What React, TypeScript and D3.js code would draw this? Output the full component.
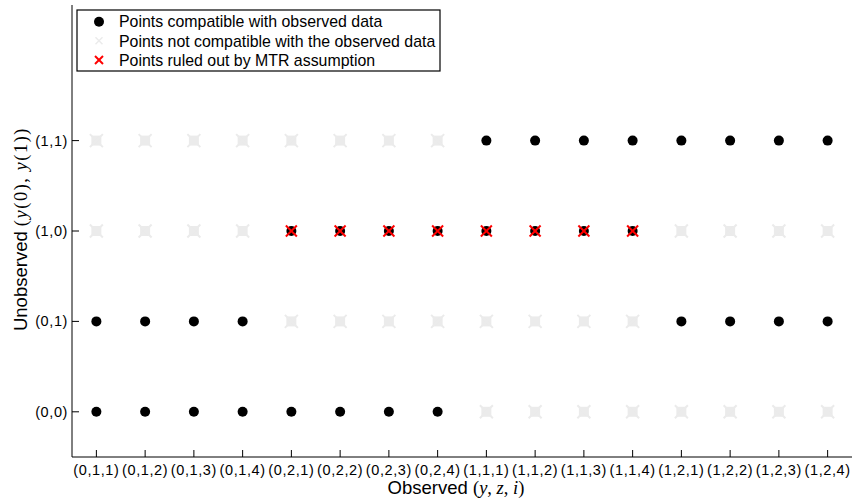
import React from "react";
import * as d3 from "d3";

const xCategories = [
  "(0,1,1)", "(0,1,2)", "(0,1,3)", "(0,1,4)",
  "(0,2,1)", "(0,2,2)", "(0,2,3)", "(0,2,4)",
  "(1,1,1)", "(1,1,2)", "(1,1,3)", "(1,1,4)",
  "(1,2,1)", "(1,2,2)", "(1,2,3)", "(1,2,4)",
];
const yCategories = ["(0,0)", "(0,1)", "(1,0)", "(1,1)"];

// 1 = compatible with observed data, 0 = not compatible (rows follow yCategories)
const compatible00 = [1, 1, 1, 1, 1, 1, 1, 1, 0, 0, 0, 0, 0, 0, 0, 0];
const compatible01 = [1, 1, 1, 1, 0, 0, 0, 0, 0, 0, 0, 0, 1, 1, 1, 1];
const compatible10 = [0, 0, 0, 0, 1, 1, 1, 1, 1, 1, 1, 1, 0, 0, 0, 0];
const compatible11 = [0, 0, 0, 0, 0, 0, 0, 0, 1, 1, 1, 1, 1, 1, 1, 1];
// 1 = ruled out by MTR assumption
const mtr00 = [0, 0, 0, 0, 0, 0, 0, 0, 0, 0, 0, 0, 0, 0, 0, 0];
const mtr01 = [0, 0, 0, 0, 0, 0, 0, 0, 0, 0, 0, 0, 0, 0, 0, 0];
const mtr10 = [0, 0, 0, 0, 1, 1, 1, 1, 1, 1, 1, 1, 0, 0, 0, 0];
const mtr11 = [0, 0, 0, 0, 0, 0, 0, 0, 0, 0, 0, 0, 0, 0, 0, 0];

const compatibleRows = [compatible00, compatible01, compatible10, compatible11];
const mtrRows = [mtr00, mtr01, mtr10, mtr11];

const legendLabels = [
  "Points compatible with observed data",
  "Points not compatible with the observed data",
  "Points ruled out by MTR assumption",
];

const W = 852;
const H = 501;
const left = 72;
const right = 852;
const top = 5;
const bottom = 457;
const SANS = "'Liberation Sans', Arial, Helvetica, sans-serif";
const SERIF = "'Liberation Serif', 'DejaVu Serif', serif";

export default function App() {
  const x = d3.scaleLinear().domain([0.5, xCategories.length + 0.5]).range([left, right]);
  const y = d3.scaleLinear().domain([0.5, 5.5]).range([bottom, top]);

  type Pt = { i: number; j: number; comp: number; mtr: number };
  const pts: Pt[] = [];
  yCategories.forEach((_, j) => {
    xCategories.forEach((_, i) => {
      pts.push({ i, j, comp: compatibleRows[j][i], mtr: mtrRows[j][i] });
    });
  });

  const gray = "#ebebeb";
  const grayMark = (cx: number, cy: number, key: string) => (
    <g key={key}>
      <rect x={cx - 5} y={cy - 5} width={10} height={10} fill={gray} />
      <line x1={cx - 6.5} y1={cy - 6.5} x2={cx + 6.5} y2={cy + 6.5} stroke={gray} strokeWidth={2} />
      <line x1={cx - 6.5} y1={cy + 6.5} x2={cx + 6.5} y2={cy - 6.5} stroke={gray} strokeWidth={2} />
    </g>
  );
  const xMark = (cx: number, cy: number, key: string, color: string, s: number, sw: number) => (
    <g key={key}>
      <line x1={cx - s} y1={cy - s} x2={cx + s} y2={cy + s} stroke={color} strokeWidth={sw} />
      <line x1={cx - s} y1={cy + s} x2={cx + s} y2={cy - s} stroke={color} strokeWidth={sw} />
    </g>
  );

  return (
    <svg width={W} height={H} style={{ position: "absolute", left: 0, top: 0, background: "#fff" }}>
      <rect x={0} y={0} width={W} height={H} fill="#fff" />
      {pts.filter((p) => !p.comp).map((p) => grayMark(x(p.i + 1), y(p.j + 1), `g${p.i}-${p.j}`))}
      {pts.filter((p) => p.comp).map((p) => (
        <circle key={`c${p.i}-${p.j}`} cx={x(p.i + 1)} cy={y(p.j + 1)} r={5} fill="#000" />
      ))}
      {pts.filter((p) => p.mtr).map((p) => xMark(x(p.i + 1), y(p.j + 1), `r${p.i}-${p.j}`, "#ff0000", 5.5, 2))}

      {/* axes */}
      <line x1={left} y1={top} x2={left} y2={bottom} stroke="#000" strokeWidth={1} />
      <line x1={left} y1={bottom} x2={right} y2={bottom} stroke="#000" strokeWidth={1} />
      {xCategories.map((c, i) => (
        <g key={`xt${i}`}>
          <line x1={x(i + 1)} y1={bottom} x2={x(i + 1)} y2={bottom - 7} stroke="#000" strokeWidth={1} />
          <text x={x(i + 1)} y={bottom + 17.5} textAnchor="middle" fontFamily={SANS} fontSize={14.5} letterSpacing={0.6} fill="#000">
            {c}
          </text>
        </g>
      ))}
      {yCategories.map((c, j) => (
        <g key={`yt${j}`}>
          <line x1={left} y1={y(j + 1)} x2={left + 7} y2={y(j + 1)} stroke="#000" strokeWidth={1} />
          <text x={left - 4} y={y(j + 1) + 5} textAnchor="end" fontFamily={SANS} fontSize={14.5} letterSpacing={0.6} fill="#000">
            {c}
          </text>
        </g>
      ))}

      {/* axis labels */}
      <text x={456} y={494} textAnchor="middle" fontFamily={SANS} fontSize={18.5} fill="#000">
        Observed{" "}
        <tspan fontFamily={SERIF}>(</tspan>
        <tspan fontFamily={SERIF} fontStyle="italic">y</tspan>
        <tspan fontFamily={SERIF}>, </tspan>
        <tspan fontFamily={SERIF} fontStyle="italic">z</tspan>
        <tspan fontFamily={SERIF}>, </tspan>
        <tspan fontFamily={SERIF} fontStyle="italic">i</tspan>
        <tspan fontFamily={SERIF}>)</tspan>
      </text>
      <text
        transform={`translate(27, 229) rotate(-90)`}
        textAnchor="middle"
        fontFamily={SANS}
        fontSize={18.5}
        fill="#000"
      >
        Unobserved{" "}
        <tspan fontFamily={SERIF} letterSpacing={1.5}>(</tspan>
        <tspan fontFamily={SERIF} fontStyle="italic" letterSpacing={1.5}>y</tspan>
        <tspan fontFamily={SERIF} letterSpacing={1.5}>(0), </tspan>
        <tspan fontFamily={SERIF} fontStyle="italic" letterSpacing={1.5}>y</tspan>
        <tspan fontFamily={SERIF} letterSpacing={1.5}>(1))</tspan>
      </text>

      {/* legend */}
      <rect x={77} y={10} width={363} height={61} fill="#fff" stroke="#000" strokeWidth={1.2} />
      <circle cx={99} cy={21.7} r={5} fill="#000" />
      {xMark(99, 40.7, "lg", gray, 3.5, 1.5)}
      {xMark(99, 60, "lr", "#ff0000", 4, 2)}
      {legendLabels.map((l, k) => (
        <text key={`l${k}`} x={119} y={27.3 + k * 19.2} fontFamily={SANS} fontSize={15.9} fill="#000">
          {l}
        </text>
      ))}
    </svg>
  );
}
